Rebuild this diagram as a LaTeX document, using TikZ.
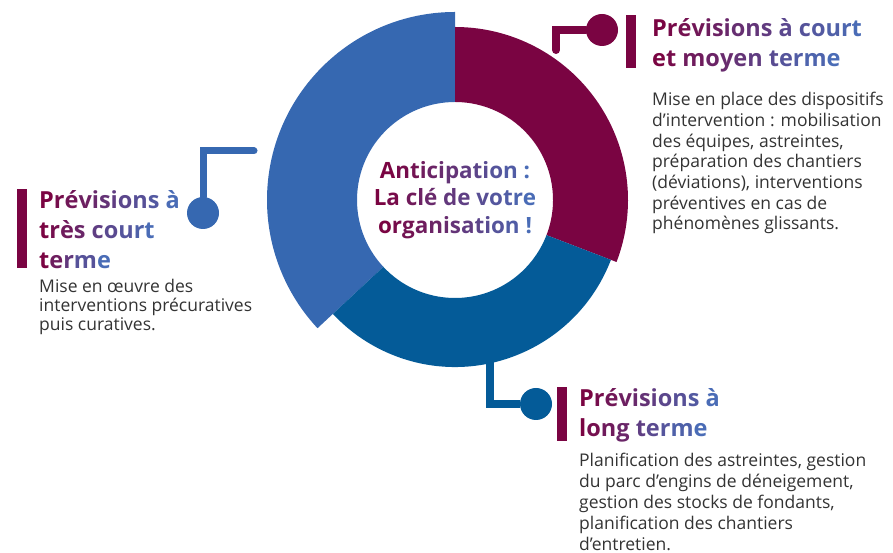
\documentclass[tikz,border=0pt]{standalone}
\usepackage{fontspec}
\setmainfont{Open Sans}
\usetikzlibrary{positioning}

\definecolor{bordeaux}{HTML}{7A0442}
\definecolor{bleuclair}{HTML}{3668B1}
\definecolor{bleufonce}{HTML}{045B98}
\definecolor{texte}{HTML}{333333}
\definecolor{titrefin}{HTML}{4A6CB6}

% titre en degrade, lettre par lettre
\ExplSyntaxOn
\int_new:N \l_degrade_n_int
\int_new:N \l_degrade_i_int
\int_new:N \l_degrade_p_int
\NewDocumentCommand{\degrade}{m}{
  \int_set:Nn \l_degrade_n_int {\str_count:n {#1}}
  \int_zero:N \l_degrade_i_int
  \str_map_inline:nn {#1}{
    \int_incr:N \l_degrade_i_int
    \int_set:Nn \l_degrade_p_int {100*(\l_degrade_i_int-1)/(\l_degrade_n_int-1)}
    \str_if_eq:nnTF {##1} {~}
      { \c_space_tl }
      { \textcolor{titrefin!\int_use:N \l_degrade_p_int!bordeaux}{##1} }
  }
}
\ExplSyntaxOff

\begin{document}
\begin{tikzpicture}[x=1pt, y=1pt,
    titre/.style={font=\bfseries\fontsize{23.5}{30}\selectfont, align=left, anchor=base west, inner sep=0pt},
    corps/.style={font=\fontsize{17.5}{20.7}\selectfont, text=texte, align=left, anchor=base west, inner sep=0pt},
    pastille/.style={circle, fill=#1, minimum size=32pt, inner sep=0pt},
    trait/.style={draw=#1, line width=8pt}]
\useasboundingbox (0,0) rectangle (893,553);

% anneau
\begin{scope}[shift={(455,353)}]
  \fill[bleuclair] (90:188) arc[start angle=90, end angle=223, radius=188] -- (223:98) arc[start angle=223, end angle=90, radius=98] -- cycle;
  \fill[bordeaux] (90:173) arc[start angle=90, end angle=-21, radius=173] -- (-21:98) arc[start angle=-21, end angle=90, radius=98] -- cycle;
  \fill[bleufonce] (-21:167) arc[start angle=-21, end angle=-137, radius=167] -- (-137:98) arc[start angle=-137, end angle=-21, radius=98] -- cycle;
\end{scope}
\node[align=center, font=\bfseries\fontsize{22.4}{27.5}\selectfont] (centre) at (455,353)
  {\degrade{Anticipation :}\\\degrade{La clé de votre}\\\degrade{organisation !}};

% court et moyen terme
\node[pastille=bordeaux] (pointA) at (602,523) {};
\coordinate (departA) at (556,503);
\draw[trait=bordeaux, line cap=round] (departA) |- (pointA);
\fill[bordeaux] (626,485) rectangle (636,538);
\node[titre] (titreA) at (652,486) {\degrade{Prévisions à court}\\\degrade{et moyen terme}};
\node[corps] (texteA) at (652,323) {Mise en place des dispositifs\\d’intervention : mobilisation\\des équipes, astreintes,\\préparation des chantiers\\(déviations), interventions\\préventives en cas de\\phénomènes glissants.};

% tres court terme
\node[pastille=bleuclair] (pointB) at (203,340) {};
\coordinate (departB) at (254,402);
\draw[trait=bleuclair, line width=7pt, line cap=round] (departB) -| (pointB);
\fill[bordeaux] (17,285) rectangle (27,364);
\node[titre] (titreB) at (39,284) {\degrade{Prévisions à}\\\degrade{très court}\\\degrade{terme}};
\node[corps, font=\fontsize{17.5}{19}\selectfont] (texteB) at (39,222) {Mise en œuvre des\\interventions précuratives\\puis curatives.};

% long terme
\node[pastille=bleufonce] (pointC) at (536,149) {};
\coordinate (departC) at (490,200);
\draw[trait=bleufonce] (departC) |- (pointC);
\fill[bordeaux] (557,112) rectangle (567,166);
\node[titre] (titreC) at (579,116) {\degrade{Prévisions à}\\\degrade{long terme}};
\node[corps, font=\fontsize{17.5}{21}\selectfont] (texteC) at (579,2.5) {Planification des astreintes, gestion\\du parc d’engins de déneigement,\\gestion des stocks de fondants,\\planification des chantiers\\d’entretien.};
\end{tikzpicture}
\end{document}
